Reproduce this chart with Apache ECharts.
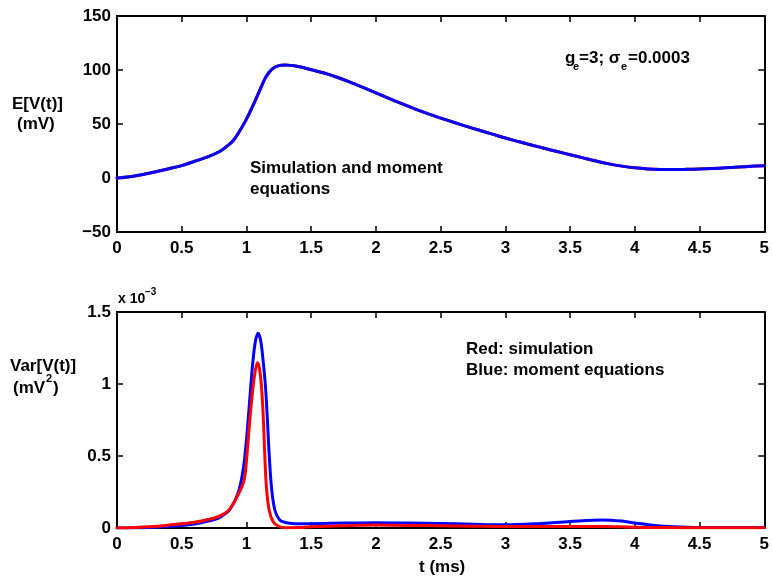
<!DOCTYPE html>
<html>
<head>
<meta charset="utf-8">
<script src="https://cdn.jsdelivr.net/npm/echarts@6/dist/echarts.min.js"></script>
<style>
html,body{margin:0;padding:0;background:#fff;}
#chart{width:772px;height:576px;}
</style>
</head>
<body>
<div id="chart"></div>
<script>
// ---- Data ----
// Top panel: mean membrane potential E[V(t)] (mV)
var meanTime = [0, 0.1, 0.2, 0.3, 0.4, 0.5, 0.6, 0.7, 0.8, 0.85, 0.9, 0.95, 1.0, 1.05, 1.1, 1.15, 1.2, 1.25, 1.3, 1.4, 1.5, 1.6, 1.7, 1.8, 1.9, 2.0, 2.1, 2.2, 2.3, 2.4, 2.5, 2.6, 2.7, 2.8, 2.9, 3.0, 3.1, 3.2, 3.3, 3.4, 3.5, 3.6, 3.7, 3.8, 3.9, 4.0, 4.1, 4.2, 4.3, 4.4, 4.5, 4.6, 4.7, 4.8, 4.9, 5.0];
var meanMoment = [0, 1.2, 3.2, 5.8, 8.6, 11.5, 15.5, 19.5, 25, 29.5, 35, 44, 54.5, 67, 80.5, 93.5, 101, 104, 104.6, 103.2, 100.3, 97.2, 93.3, 88.8, 83.9, 78.8, 73.7, 68.8, 64, 59.6, 55.5, 51.6, 47.8, 44.2, 40.6, 37, 33.8, 30.6, 27.5, 24.5, 21.6, 18.6, 15.7, 13.1, 11, 9.4, 8.4, 7.9, 7.8, 8.0, 8.3, 8.8, 9.4, 10.1, 10.8, 11.4];
var meanSim    = [0, 1.2, 3.2, 5.8, 8.6, 11.5, 15.5, 19.5, 25, 29.5, 35, 44, 54.5, 67, 80.5, 93.5, 101, 104, 104.6, 103.2, 100.3, 97.2, 93.3, 88.8, 83.9, 78.8, 73.7, 68.8, 64, 59.6, 55.5, 51.6, 47.8, 44.2, 40.6, 37, 33.8, 30.6, 27.5, 24.5, 21.6, 18.6, 15.7, 13.1, 11, 9.4, 8.4, 7.9, 7.8, 8.0, 8.3, 8.8, 9.4, 10.1, 10.8, 11.4];

// Bottom panel: variance Var[V(t)] in units of 1e-3 mV^2
var varSimTime = [0, 0.25, 0.46, 0.6, 0.72, 0.78, 0.83, 0.87, 0.935, 0.982, 1.005, 1.026, 1.051, 1.07, 1.085, 1.1, 1.116, 1.131, 1.141, 1.154, 1.175, 1.206, 1.245, 1.3, 1.4, 1.5, 1.75, 2.0, 2.25, 2.5, 2.75, 3.0, 3.25, 3.5, 3.75, 4.0, 4.25, 4.5, 5.0];
var varSim     = [0, 0.008, 0.026, 0.04, 0.062, 0.078, 0.1, 0.13, 0.23, 0.333, 0.52, 0.75, 0.981, 1.1, 1.148, 1.11, 0.981, 0.75, 0.52, 0.287, 0.125, 0.044, 0.014, 0.002, 0.004, 0.008, 0.015, 0.02, 0.018, 0.016, 0.013, 0.01, 0.01, 0.011, 0.01, 0.006, 0.003, 0.002, 0.002];
var varMomTime = [0, 0.25, 0.46, 0.6, 0.72, 0.78, 0.82, 0.87, 0.935, 0.974, 0.995, 1.013, 1.033, 1.051, 1.07, 1.09, 1.11, 1.128, 1.147, 1.162, 1.175, 1.193, 1.219, 1.257, 1.3, 1.35, 1.5, 1.75, 2.0, 2.25, 2.5, 2.75, 3.0, 3.25, 3.5, 3.75, 3.9, 4.0, 4.15, 4.3, 4.5, 4.75, 5.0];
var varMoment  = [0, 0.004, 0.014, 0.028, 0.051, 0.067, 0.09, 0.125, 0.241, 0.403, 0.565, 0.75, 0.981, 1.167, 1.3, 1.352, 1.3, 1.167, 0.981, 0.75, 0.52, 0.287, 0.125, 0.056, 0.038, 0.032, 0.03, 0.034, 0.036, 0.034, 0.032, 0.026, 0.022, 0.03, 0.045, 0.056, 0.048, 0.035, 0.018, 0.008, 0.003, 0.003, 0.003];

// Axes
var xMin = 0, xMax = 5, xStep = 0.5;
var meanMin = -50, meanMax = 150, meanStep = 50;
var varMin = 0, varMax = 1.5, varStep = 0.5;

function pairs(xs, ys) { return xs.map(function (x, i) { return [x, ys[i]]; }); }

var FONT = '"Liberation Sans", Arial, Helvetica, sans-serif';
var FS = 17;
var labelStyle = { color: '#000', fontFamily: FONT, fontWeight: 'bold', fontSize: FS };

function fmtNum(v) {
  var s = String(Math.round(v * 1000) / 1000);
  return s.replace('-', '\u2212');
}

function makeX(gridIndex, pos, showLabel) {
  return {
    type: 'value', gridIndex: gridIndex, position: pos,
    min: xMin, max: xMax, interval: xStep,
    axisLine: { show: true, onZero: false, lineStyle: { color: '#000', width: 2 } },
    axisTick: { show: true, inside: true, length: 6, lineStyle: { color: '#000', width: 1.5 } },
    axisLabel: Object.assign({ show: showLabel, margin: 8, formatter: fmtNum }, labelStyle),
    splitLine: { show: false }
  };
}
function makeY(gridIndex, pos, showLabel, mn, mx, st) {
  return {
    type: 'value', gridIndex: gridIndex, position: pos,
    min: mn, max: mx, interval: st,
    axisLine: { show: true, onZero: false, lineStyle: { color: '#000', width: 2 } },
    axisTick: { show: true, inside: true, length: 6, lineStyle: { color: '#000', width: 1.5 } },
    axisLabel: Object.assign({ show: showLabel, margin: 6, formatter: fmtNum }, labelStyle),
    splitLine: { show: false }
  };
}

function tx(x, y, s, size) {
  return {
    type: 'text', x: x, y: y, silent: true,
    style: { text: s, fill: '#000', font: 'bold ' + size + 'px ' + FONT, verticalAlign: 'middle', align: 'left' }
  };
}

function lineSeries(xi, yi, xs, ys, color, z) {
  return {
    type: 'line', xAxisIndex: xi, yAxisIndex: yi, data: pairs(xs, ys),
    showSymbol: false, smooth: 0.35, clip: true,
    lineStyle: { color: color, width: 3, cap: 'round', join: 'round' }, z: z
  };
}

var chart = echarts.init(document.getElementById('chart'), null, { renderer: 'canvas' });
chart.setOption({
  animation: false,
  backgroundColor: '#fff',
  grid: [
    { left: 117, top: 16, width: 648, height: 216 },
    { left: 117, top: 312, width: 648, height: 216 }
  ],
  xAxis: [
    makeX(0, 'bottom', true), makeX(0, 'top', false),
    makeX(1, 'bottom', true), makeX(1, 'top', false)
  ],
  yAxis: [
    makeY(0, 'left', true, meanMin, meanMax, meanStep), makeY(0, 'right', false, meanMin, meanMax, meanStep),
    makeY(1, 'left', true, varMin, varMax, varStep), makeY(1, 'right', false, varMin, varMax, varStep)
  ],
  series: [
    lineSeries(0, 0, meanTime, meanSim, '#ff0000', 3),
    lineSeries(0, 0, meanTime, meanMoment, '#0000ff', 4),
    lineSeries(2, 2, varMomTime, varMoment, '#0000ff', 3),
    lineSeries(2, 2, varSimTime, varSim, '#ff0000', 4)
  ],
  graphic: [
    tx(12, 104, 'E[V(t)]', FS),
    tx(17, 124, '(mV)', FS),
    tx(10, 366, 'Var[V(t)]', FS),
    tx(13, 388, '(mV', FS),
    tx(46, 379, '2', 11),
    tx(53, 388, ')', FS),
    tx(565, 58, 'g', FS),
    tx(573, 67, 'e', 11),
    tx(579, 58, '=3; \u03c3', FS),
    tx(621, 67, 'e', 11),
    tx(628, 58, '=0.0003', FS),
    tx(250, 168, 'Simulation and moment', FS),
    tx(250, 189, 'equations', FS),
    tx(466, 349.5, 'Red: simulation', FS),
    tx(466, 370, 'Blue: moment equations', FS),
    tx(118, 299, 'x 10', 14),
    tx(145, 292, '\u22123', 10),
    tx(419, 567, 't (ms)', FS)
  ]
});
</script>
</body>
</html>
